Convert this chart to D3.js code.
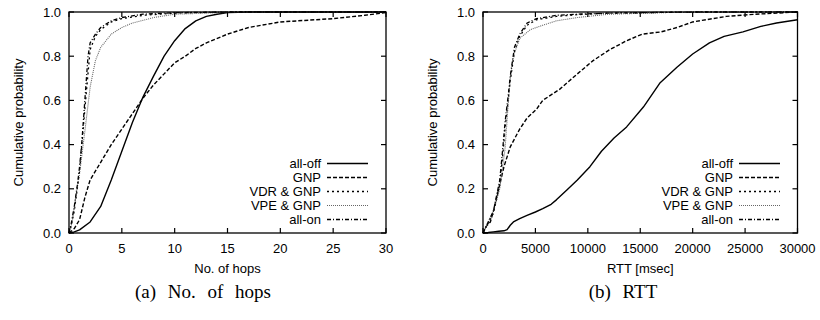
<!DOCTYPE html>
<html>
<head>
<meta charset="utf-8">
<script src="https://cdn.jsdelivr.net/npm/d3@7"></script>
<style>
  html, body { margin: 0; padding: 0; background: #fff; }
  svg { display: block; }
  text { font-family: "Liberation Sans", Arial, Helvetica, sans-serif; fill: #000; }
  .caption { font-family: "Liberation Serif", "DejaVu Serif", serif; }
</style>
</head>
<body>
<svg id="chart" width="820" height="320"></svg>
<script>
// ---------------- DATA ----------------
const seriesNames = ["all-off", "GNP", "VDR & GNP", "VPE & GNP", "all-on"];

const hopsTicks = [0, 5, 10, 15, 20, 25, 30];
const rttTicks = [0, 5000, 10000, 15000, 20000, 25000, 30000];
const probTicks = [0.0, 0.2, 0.4, 0.6, 0.8, 1.0];

// (a) No. of hops  — [hops, cumulative probability]
const hopsAllOff = [[0,0],[0.5,0.005],[1,0.014],[2,0.05],[3,0.12],[4,0.24],[5,0.37],[6,0.50],[7,0.615],[8,0.71],[9,0.80],[10,0.87],[11,0.925],[12,0.96],[13,0.98],[14,0.99],[15,0.997],[17,1],[30,1]];
const hopsGNP    = [[0,0],[0.5,0.02],[1,0.06],[1.5,0.16],[2,0.24],[3,0.32],[4,0.40],[5,0.47],[6,0.54],[7,0.61],[8,0.67],[9,0.72],[10,0.77],[11,0.80],[12,0.835],[13,0.86],[15,0.90],[17,0.93],[20,0.955],[25,0.97],[28,0.985],[30,0.997]];
const hopsVDR    = [[0,0],[0.2,0.03],[0.5,0.10],[1,0.28],[1.5,0.56],[2,0.83],[2.5,0.89],[3,0.92],[4,0.955],[5,0.97],[7,0.985],[10,0.995],[15,1],[30,1]];
const hopsVPE    = [[0,0],[0.3,0.05],[0.6,0.15],[1,0.27],[1.5,0.46],[2,0.66],[2.5,0.78],[3,0.84],[4,0.90],[5,0.93],[6,0.95],[8,0.975],[10,0.99],[15,0.998],[20,1],[30,1]];
const hopsAllOn  = [[0,0],[0.2,0.04],[0.5,0.12],[0.8,0.22],[1,0.30],[1.2,0.40],[1.5,0.60],[1.8,0.80],[2,0.86],[2.5,0.90],[3,0.93],[4,0.96],[5,0.975],[7,0.99],[10,0.997],[15,1],[30,1]];

// (b) RTT  — [msec, cumulative probability]
const rttAllOff = [[0,0],[500,0.002],[1000,0.005],[1500,0.008],[2000,0.01],[2300,0.015],[2600,0.035],[2900,0.05],[3500,0.065],[4200,0.08],[5000,0.095],[5700,0.11],[6500,0.13],[7000,0.15],[8000,0.195],[9000,0.24],[10200,0.30],[11300,0.37],[12500,0.43],[13700,0.48],[15300,0.57],[16900,0.68],[18500,0.75],[20000,0.81],[21600,0.86],[23000,0.89],[24800,0.91],[26500,0.935],[28000,0.95],[30000,0.965]];
const rttGNP    = [[0,0],[300,0.03],[700,0.05],[1000,0.10],[1500,0.20],[2000,0.30],[2600,0.39],[3500,0.47],[4200,0.52],[5100,0.56],[5700,0.60],[7300,0.65],[9000,0.72],[10500,0.78],[12100,0.83],[13700,0.87],[15200,0.90],[17000,0.91],[18500,0.93],[20000,0.955],[23200,0.98],[26000,0.99],[28000,0.995],[30000,1]];
const rttVDR    = [[0,0],[200,0.02],[500,0.045],[1000,0.09],[1600,0.22],[1900,0.36],[2100,0.47],[2400,0.60],[2600,0.69],[3000,0.82],[3500,0.89],[4200,0.94],[5100,0.965],[7000,0.98],[9000,0.988],[12000,0.995],[20000,1],[30000,1]];
const rttVPE    = [[0,0],[300,0.03],[700,0.07],[1000,0.10],[1600,0.20],[2100,0.38],[2400,0.58],[2600,0.70],[2900,0.80],[3500,0.88],[4500,0.92],[5700,0.94],[7000,0.96],[9000,0.975],[12000,0.99],[18000,0.998],[30000,1]];
const rttAllOn  = [[0,0],[200,0.02],[500,0.05],[1000,0.10],[1600,0.24],[1900,0.39],[2100,0.50],[2400,0.62],[2600,0.71],[3000,0.84],[3500,0.90],[4200,0.95],[5100,0.97],[7000,0.985],[9000,0.99],[12000,0.995],[20000,1],[30000,1]];

// ---------------- STYLES ----------------
const lineStyles = [
  { dash: null,        color: "#000", width: 1.4 },   // all-off
  { dash: "4,2",       color: "#000", width: 1.4 },   // GNP
  { dash: "2,3",       color: "#000", width: 1.3 },   // VDR & GNP
  { dash: "1,1",       color: "#666", width: 1.1 },   // VPE & GNP
  { dash: "4,2,1,2",   color: "#000", width: 1.3 }    // all-on
];

const svg = d3.select("#chart");

function drawPanel(cfg) {
  const g = svg.append("g");
  const x = d3.scaleLinear().domain(cfg.xDomain).range([cfg.left, cfg.right]);
  const y = d3.scaleLinear().domain([0, 1]).range([233, 12]);
  const tickLen = 5;

  // curves
  const line = d3.line().x(d => x(d[0])).y(d => y(d[1]));
  cfg.series.forEach((s, i) => {
    const st = lineStyles[i];
    g.append("path").datum(s)
      .attr("d", line)
      .attr("fill", "none")
      .attr("stroke", st.color)
      .attr("stroke-width", st.width)
      .attr("stroke-dasharray", st.dash)
      .attr("stroke-linejoin", "round");
  });

  // ticks (inward, mirrored)
  cfg.xTicks.forEach(t => {
    g.append("line").attr("x1", x(t)).attr("x2", x(t)).attr("y1", 233).attr("y2", 233 - tickLen)
      .attr("stroke", "#000").attr("stroke-width", 1.2);
    g.append("line").attr("x1", x(t)).attr("x2", x(t)).attr("y1", 12).attr("y2", 12 + tickLen)
      .attr("stroke", "#000").attr("stroke-width", 1.2);
    g.append("text").attr("x", x(t)).attr("y", 253).attr("text-anchor", "middle")
      .attr("font-size", 13).text(t);
  });
  probTicks.forEach(t => {
    g.append("line").attr("x1", cfg.left).attr("x2", cfg.left + tickLen).attr("y1", y(t)).attr("y2", y(t))
      .attr("stroke", "#000").attr("stroke-width", 1.2);
    g.append("line").attr("x1", cfg.right).attr("x2", cfg.right - tickLen).attr("y1", y(t)).attr("y2", y(t))
      .attr("stroke", "#000").attr("stroke-width", 1.2);
    g.append("text").attr("x", cfg.left - 8).attr("y", y(t)).attr("dy", "0.35em")
      .attr("text-anchor", "end").attr("font-size", 13).text(d3.format(".1f")(t));
  });

  // frame
  g.append("rect").attr("x", cfg.left).attr("y", 12)
    .attr("width", cfg.right - cfg.left).attr("height", 221)
    .attr("fill", "none").attr("stroke", "#000").attr("stroke-width", 1.3);

  // axis titles
  g.append("text")
    .attr("transform", `translate(${cfg.left - 46},122.5) rotate(-90)`)
    .attr("text-anchor", "middle").attr("font-size", 13)
    .text("Cumulative probability");
  g.append("text").attr("x", (cfg.left + cfg.right) / 2).attr("y", 273)
    .attr("text-anchor", "middle").attr("font-size", 13).text(cfg.xTitle);

  // legend
  const rowY = [163.5, 177.5, 191.5, 205.5, 219.5];
  seriesNames.forEach((name, i) => {
    const st = lineStyles[i];
    g.append("text").attr("x", cfg.legTextX).attr("y", rowY[i]).attr("dy", "0.35em")
      .attr("text-anchor", "end").attr("font-size", 13).text(name);
    g.append("line").attr("x1", cfg.legTextX + 6).attr("x2", cfg.legTextX + 47)
      .attr("y1", rowY[i]).attr("y2", rowY[i])
      .attr("stroke", st.color).attr("stroke-width", st.width).attr("stroke-dasharray", st.dash);
  });

  // caption
  g.append("text").attr("class", "caption")
    .attr("x", cfg.capX).attr("y", 298).attr("text-anchor", "middle")
    .attr("font-size", 19).attr("word-spacing", 7)
    .text(cfg.caption);
}

drawPanel({
  left: 69, right: 386, xDomain: [0, 30], xTicks: hopsTicks,
  series: [hopsAllOff, hopsGNP, hopsVDR, hopsVPE, hopsAllOn],
  xTitle: "No. of hops", legTextX: 321, caption: "(a) No. of hops", capX: 203
});
drawPanel({
  left: 483, right: 797.5, xDomain: [0, 30000], xTicks: rttTicks,
  series: [rttAllOff, rttGNP, rttVDR, rttVPE, rttAllOn],
  xTitle: "RTT [msec]", legTextX: 733, caption: "(b) RTT", capX: 623
});
</script>
</body>
</html>
